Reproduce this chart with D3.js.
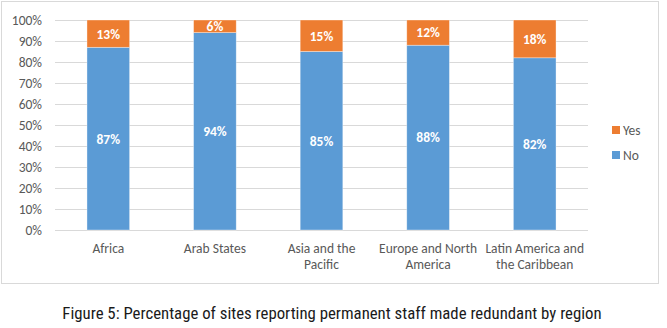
<!DOCTYPE html>
<html><head><meta charset="utf-8">
<script src="https://cdn.jsdelivr.net/npm/d3@7"></script>
<style>body{margin:0;background:#fff;}svg{display:block;}</style>
</head><body>
<script>
const categories = [["Africa"],["Arab States"],["Asia and the","Pacific"],["Europe and North","America"],["Latin America and","the Caribbean"]];
const noValues = [87, 94, 85, 88, 82];
const yesValues = [13, 6, 15, 12, 18];
const yTicks = [0,10,20,30,40,50,60,70,80,90,100];
const seriesNames = ["Yes","No"];
const colors = {Yes:"#ED7D31", No:"#5B9BD5"};

(function(){
const W=667,H=328;
const svg=d3.select("body").append("svg").attr("width",W).attr("height",H);
svg.append("rect").attr("x",1.5).attr("y",1.5).attr("width",657).attr("height",282).attr("fill","#fff").attr("stroke","#D9D9D9");

const pLeft=55,pRight=588,pTop=20,pBottom=230;
const x=d3.scaleBand().domain(d3.range(categories.length)).range([pLeft,pRight]).paddingInner(0.6).paddingOuter(0.3);
const y=d3.scaleLinear().domain([0,100]).range([pBottom,pTop]);
const font="Carlito, Lato, 'Open Sans', sans-serif";

const g=svg.append("g");
g.selectAll("line.grid").data(yTicks).join("line").attr("class","grid")
 .attr("x1",pLeft).attr("x2",pRight).attr("y1",d=>y(d)).attr("y2",d=>y(d))
 .attr("stroke","#D9D9D9").attr("stroke-width",1).attr("shape-rendering","crispEdges");

const yAxis=d3.axisLeft(y).tickValues(yTicks).tickFormat(d=>d+"%").tickSize(0).tickPadding(13);
const ya=svg.append("g").attr("transform",`translate(${pLeft},0)`).call(yAxis);
ya.select(".domain").remove();
ya.selectAll("text").attr("font-family",font).attr("font-size",13.5).attr("fill","#595959");

const data=categories.map((c,i)=>({i,no:noValues[i],yes:yesValues[i]}));
const stack=d3.stack().keys(["no","yes"])(data);
const keyName={no:"No",yes:"Yes"};
stack.forEach(layer=>{
  g.selectAll(null).data(layer).join("rect")
   .attr("x",d=>x(d.data.i)).attr("width",x.bandwidth())
   .attr("y",d=>y(d[1])).attr("height",d=>y(d[0])-y(d[1]))
   .attr("fill",colors[keyName[layer.key]]).attr("stroke","rgba(255,255,255,0.5)").attr("stroke-width",0.7);
  g.selectAll(null).data(layer).join("text")
   .attr("x",d=>x(d.data.i)+x.bandwidth()/2).attr("y",d=>(y(d[0])+y(d[1]))/2)
   .attr("dy","0.36em").attr("text-anchor","middle")
   .attr("font-family",font).attr("font-size",13.5).attr("font-weight",600).attr("fill","#fff")
   .text(d=>(d[1]-d[0])+"%");
});

const xAxis=d3.axisBottom(x).tickSize(0).tickFormat("");
const xa=svg.append("g").attr("transform",`translate(0,${pBottom})`).call(xAxis);
xa.select(".domain").remove();
categories.forEach((c,i)=>{
  const cx=x(i)+x.bandwidth()/2;
  const t=svg.append("text").attr("x",cx).attr("y",253)
   .attr("text-anchor","middle").attr("font-family",font).attr("font-size",13.5).attr("fill","#595959");
  c.forEach((line,j)=>t.append("tspan").attr("x",cx).attr("y",253+j*16).text(line));
});

const lg=svg.append("g");
seriesNames.forEach((s,j)=>{
  lg.append("rect").attr("x",612).attr("y",126+j*25).attr("width",8).attr("height",8).attr("fill",colors[s]);
  lg.append("text").attr("x",623).attr("y",130+j*25).attr("dy","0.36em").attr("font-family",font).attr("font-size",13.5).attr("fill","#595959").text(s);
});

svg.append("text").attr("x",332).attr("y",319).attr("text-anchor","middle")
 .attr("font-family","'Liberation Sans Narrow', 'Roboto Condensed', Roboto, sans-serif").attr("font-size",16.8).attr("fill","#1a1a1a")
 .text("Figure 5: Percentage of sites reporting permanent staff made redundant by region");
})();
</script>
</body></html>
